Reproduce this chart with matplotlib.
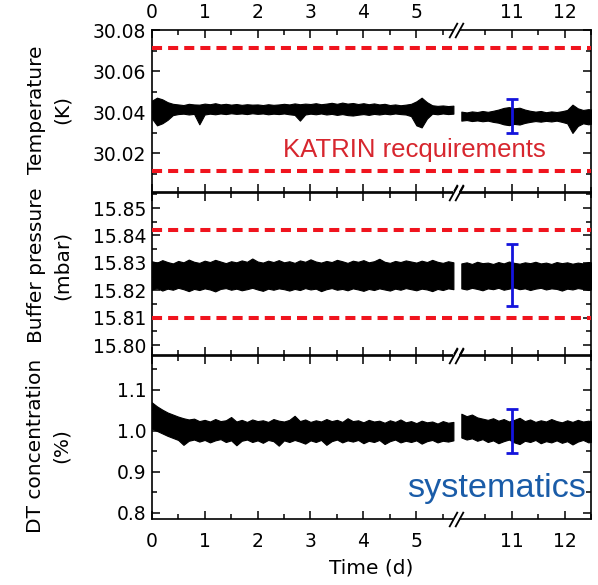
import numpy as np
import matplotlib
matplotlib.use('Agg')
import matplotlib.pyplot as plt

plt.rcParams['font.family'] = 'DejaVu Sans'

# time grid of the envelopes (days); the run is interrupted between ~5.7 d and ~10 d
t_left = np.round(np.arange(0.0, 5.75, 0.1), 2)
t_right = np.round(np.arange(10.05, 12.6, 0.1), 2)

# temperature (K): upper / lower envelope of the raw trace
temp_hi_left = [30.0455, 30.0470, 30.0462, 30.0448, 30.0440, 30.0437, 30.0434, 30.0440, 30.0437, 30.0436,
                30.0441, 30.0438, 30.0443, 30.0437, 30.0440, 30.0436, 30.0439, 30.0435, 30.0438, 30.0436,
                30.0437, 30.0434, 30.0438, 30.0435, 30.0437, 30.0440, 30.0437, 30.0442, 30.0438, 30.0441,
                30.0439, 30.0443, 30.0438, 30.0441, 30.0445, 30.0440, 30.0446, 30.0441, 30.0444, 30.0439,
                30.0443, 30.0438, 30.0442, 30.0437, 30.0440, 30.0434, 30.0437, 30.0433, 30.0436, 30.0440,
                30.0452, 30.0470, 30.0448, 30.0433, 30.0430, 30.0432, 30.0429, 30.0431]
temp_lo_left = [30.0370, 30.0335, 30.0345, 30.0362, 30.0385, 30.0390, 30.0392, 30.0388, 30.0391, 30.0340,
                30.0388, 30.0392, 30.0389, 30.0393, 30.0390, 30.0394, 30.0391, 30.0393, 30.0390, 30.0394,
                30.0391, 30.0393, 30.0389, 30.0392, 30.0390, 30.0393, 30.0389, 30.0386, 30.0358, 30.0388,
                30.0392, 30.0389, 30.0393, 30.0388, 30.0391, 30.0386, 30.0390, 30.0385, 30.0383, 30.0387,
                30.0390, 30.0386, 30.0391, 30.0388, 30.0392, 30.0389, 30.0393, 30.0390, 30.0388, 30.0380,
                30.0335, 30.0325, 30.0368, 30.0392, 30.0389, 30.0393, 30.0390, 30.0392]
temp_hi_right = [30.0402, 30.0398, 30.0403, 30.0400, 30.0405, 30.0401, 30.0406, 30.0412, 30.0420, 30.0424,
                 30.0418, 30.0421, 30.0412, 30.0406, 30.0402, 30.0405, 30.0399, 30.0403, 30.0400, 30.0404,
                 30.0410, 30.0436, 30.0418, 30.0410, 30.0414, 30.0411]
temp_lo_right = [30.0358, 30.0361, 30.0356, 30.0359, 30.0355, 30.0358, 30.0352, 30.0348, 30.0340, 30.0336,
                 30.0342, 30.0339, 30.0347, 30.0352, 30.0356, 30.0353, 30.0357, 30.0354, 30.0358, 30.0352,
                 30.0345, 30.0298, 30.0332, 30.0345, 30.0340, 30.0346]

# buffer pressure (mbar)
pres_hi_left = [15.8306, 15.8301, 15.8310, 15.8303, 15.8298, 15.8307, 15.8302, 15.8312, 15.8304, 15.8300,
                15.8308, 15.8303, 15.8311, 15.8305, 15.8299, 15.8306, 15.8302, 15.8309, 15.8304, 15.8316,
                15.8305, 15.8301, 15.8308, 15.8303, 15.8310, 15.8302, 15.8306, 15.8300, 15.8309, 15.8304,
                15.8313, 15.8305, 15.8301, 15.8307, 15.8303, 15.8311, 15.8306, 15.8300, 15.8308, 15.8304,
                15.8310, 15.8302, 15.8306, 15.8315, 15.8304, 15.8300, 15.8307, 15.8303, 15.8309, 15.8305,
                15.8301, 15.8308, 15.8303, 15.8311, 15.8304, 15.8300, 15.8306, 15.8302]
pres_lo_left = [15.8203, 15.8208, 15.8199, 15.8206, 15.8202, 15.8209, 15.8204, 15.8197, 15.8205, 15.8201,
                15.8207, 15.8203, 15.8196, 15.8205, 15.8208, 15.8202, 15.8206, 15.8200, 15.8204, 15.8209,
                15.8203, 15.8198, 15.8206, 15.8202, 15.8207, 15.8204, 15.8199, 15.8205, 15.8201, 15.8208,
                15.8203, 15.8206, 15.8197, 15.8204, 15.8208, 15.8202, 15.8205, 15.8200, 15.8207, 15.8203,
                15.8198, 15.8205, 15.8201, 15.8207, 15.8203, 15.8199, 15.8206, 15.8202, 15.8208, 15.8204,
                15.8200, 15.8206, 15.8203, 15.8197, 15.8205, 15.8201, 15.8207, 15.8204]
pres_hi_right = [15.8298, 15.8302, 15.8296, 15.8304, 15.8299, 15.8301, 15.8296, 15.8303, 15.8298, 15.8305,
                 15.8300, 15.8297, 15.8302, 15.8299, 15.8304, 15.8298, 15.8301, 15.8296, 15.8303, 15.8299,
                 15.8302, 15.8297, 15.8301, 15.8298, 15.8303, 15.8300]
pres_lo_right = [15.8207, 15.8203, 15.8209, 15.8205, 15.8200, 15.8207, 15.8204, 15.8209, 15.8202, 15.8206,
                 15.8210, 15.8204, 15.8207, 15.8201, 15.8206, 15.8209, 15.8203, 15.8207, 15.8205, 15.8199,
                 15.8206, 15.8203, 15.8208, 15.8205, 15.8201, 15.8206]

# DT concentration (%)
dt_hi_left = [1.070, 1.060, 1.052, 1.045, 1.040, 1.035, 1.031, 1.028, 1.030, 1.024,
              1.027, 1.023, 1.029, 1.024, 1.026, 1.034, 1.023, 1.027, 1.022, 1.028,
              1.024, 1.026, 1.022, 1.029, 1.025, 1.023, 1.027, 1.037, 1.024, 1.028,
              1.022, 1.026, 1.023, 1.029, 1.024, 1.027, 1.022, 1.031, 1.024, 1.026,
              1.021, 1.027, 1.023, 1.025, 1.020, 1.026, 1.022, 1.028, 1.021, 1.024,
              1.019, 1.025, 1.021, 1.023, 1.018, 1.024, 1.020, 1.022]
dt_lo_left = [1.006, 1.000, 0.994, 0.988, 0.983, 0.978, 0.966, 0.976, 0.979, 0.974,
              0.978, 0.972, 0.977, 0.980, 0.973, 0.977, 0.965, 0.976, 0.979, 0.973,
              0.977, 0.971, 0.978, 0.975, 0.964, 0.977, 0.973, 0.978, 0.974, 0.969,
              0.977, 0.973, 0.978, 0.966, 0.975, 0.979, 0.972, 0.977, 0.974, 0.978,
              0.970, 0.976, 0.973, 0.978, 0.968, 0.975, 0.979, 0.972, 0.976, 0.973,
              0.977, 0.969, 0.975, 0.978, 0.972, 0.976, 0.974, 0.977]
dt_hi_right = [1.042, 1.036, 1.040, 1.033, 1.030, 1.027, 1.031, 1.025, 1.029, 1.023,
               1.027, 1.032, 1.024, 1.028, 1.022, 1.026, 1.023, 1.029, 1.024, 1.021,
               1.026, 1.022, 1.027, 1.023, 1.025, 1.022]
dt_lo_right = [0.984, 0.979, 0.982, 0.976, 0.980, 0.973, 0.977, 0.970, 0.975, 0.979,
               0.972, 0.968, 0.976, 0.973, 0.978, 0.970, 0.975, 0.972, 0.977, 0.971,
               0.975, 0.967, 0.974, 0.978, 0.972, 0.975]

# KATRIN stability limits and systematic uncertainty bars (centre, half width) at t = 11 d
temp_limits = [30.011, 30.071]
pres_limits = [15.810, 15.842]
temp_sys = (30.038, 0.0083)
pres_sys = (15.8255, 0.0114)
dt_sys = (1.000, 0.054)
t_sys = 11

# broken time axis: everything after the gap is shifted left by GAP days
GAP = 4.2
BREAK_X = (5.69, 5.81)


def fwd(t):
    t = np.asarray(t, dtype=float)
    return np.where(t > 8, t - GAP, t)


def inv(x):
    x = np.asarray(x, dtype=float)
    return np.where(x > 5.8, x + GAP, x)


RED = '#f0141e'
BLUE = '#1414dc'

fig = plt.figure(figsize=(5.98, 5.85), dpi=100)
x0, w = 0.2537, 0.7346
ax_t = fig.add_axes([x0, 0.6718, w, 0.2769])
ax_p = fig.add_axes([x0, 0.3932, w, 0.2769])
ax_d = fig.add_axes([x0, 0.1128, w, 0.2787])

panels = [
    (ax_t, temp_hi_left, temp_lo_left, temp_hi_right, temp_lo_right, temp_sys, temp_limits,
     (30.001, 30.08), [30.02, 30.04, 30.06, 30.08], ['30.02', '30.04', '30.06', '30.08'], 0.01),
    (ax_p, pres_hi_left, pres_lo_left, pres_hi_right, pres_lo_right, pres_sys, pres_limits,
     (15.7964, 15.8555), [15.80, 15.81, 15.82, 15.83, 15.84, 15.85],
     ['15.80', '15.81', '15.82', '15.83', '15.84', '15.85'], 0.005),
    (ax_d, dt_hi_left, dt_lo_left, dt_hi_right, dt_lo_right, dt_sys, None,
     (0.785, 1.183), [0.8, 0.9, 1.0, 1.1], ['0.8', '0.9', '1.0', '1.1'], 0.05),
]

for ax, hl, ll, hr, lr, sys, lims, ylim, yt, ytl, ymin_step in panels:
    ax.set_xscale('function', functions=(fwd, inv))
    for tt, hi, lo in [(t_left, hl, ll), (t_right, hr, lr)]:
        # min/max envelope of the dense record, per 0.1 d bin
        ax.fill_between(tt, lo, hi, color='black', lw=0.8, zorder=2)
    if lims is not None:
        for y in lims:
            ax.axhline(y, color=RED, lw=2.9, dashes=(2.5, 1.5), zorder=3)
    ax.errorbar([t_sys], [sys[0]], yerr=[sys[1]], color=BLUE, lw=2, capsize=4.5,
                capthick=2, zorder=4)

    ax.set_xlim(0, 12.5)
    ax.set_ylim(*ylim)
    ax.set_xticks([0, 1, 2, 3, 4, 5, 11, 12], ['0', '1', '2', '3', '4', '5', '11', '12'])
    ax.set_xticks([0.5, 1.5, 2.5, 3.5, 4.5, 5.5, 10.5, 11.5, 12.5], minor=True)
    ax.set_yticks(yt, ytl)
    ax.set_yticks(np.arange(ylim[0] - ylim[0] % ymin_step, ylim[1], ymin_step)[1:], minor=True)
    ax.tick_params(which='both', direction='in', top=True, right=True, width=1.1,
                   labelsize=13.5, labelbottom=False)
    ax.tick_params(which='major', length=6)
    ax.tick_params(which='minor', length=3.5)
    ax.tick_params(axis='y', pad=4)
    for sp in ax.spines.values():
        sp.set_linewidth(1.2)

    # break marks on the top and bottom spines
    for yb in (0, 1):
        ax.plot(BREAK_X, [yb, yb], color='white', lw=3, transform=ax.get_xaxis_transform(),
                clip_on=False, zorder=6, solid_capstyle='butt')
        ax.plot(BREAK_X, [yb, yb], ls='none', marker=[(-0.55, -1), (0.55, 1)], ms=11,
                mec='black', mew=1.3, transform=ax.get_xaxis_transform(), clip_on=False, zorder=7)

ax_t.tick_params(axis='x', labeltop=True, pad=6)
ax_d.tick_params(axis='x', labelbottom=True, pad=9)

ax_t.text(0.299, 0.218, 'KATRIN recquirements', transform=ax_t.transAxes, color='#d7262e',
          fontsize=18.5, family='Liberation Sans', ha='left', va='baseline')
ax_d.text(0.582, 0.137, 'systematics', transform=ax_d.transAxes, color='#1a5ca8',
          fontsize=24.7, family='Liberation Sans', ha='left', va='baseline')

ylab = dict(rotation=90, ha='center', va='center', fontsize=14.5, linespacing=1.45)
fig.text(49 / 598, 1 - 110 / 585, 'Temperature\n(K)', **ylab)
fig.text(49 / 598, 1 - 265 / 585, 'Buffer pressure\n(mbar)', **ylab)
fig.text(48 / 598, 1 - 446 / 585, 'DT concentration\n(%)', **ylab)
ax_d.set_xlabel('Time (d)', fontsize=14.5, labelpad=6)

fig.savefig('out.png', dpi=100)
